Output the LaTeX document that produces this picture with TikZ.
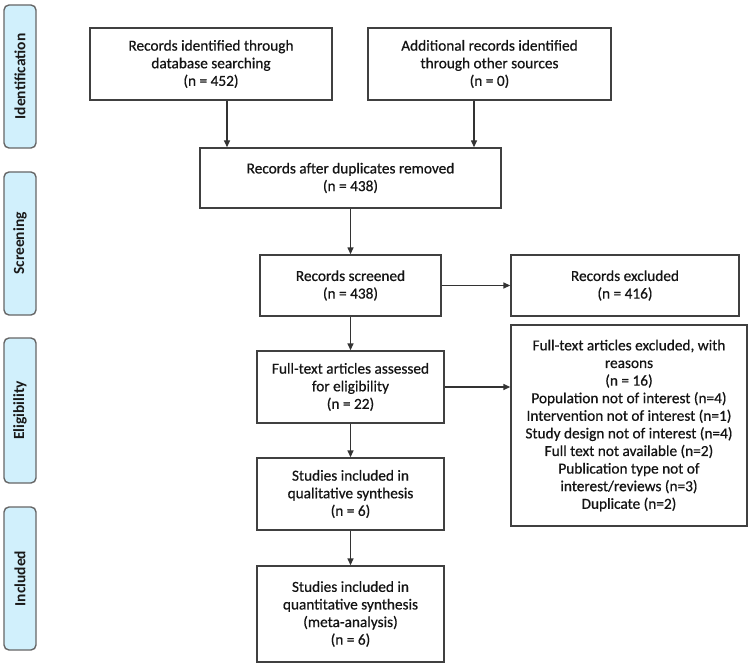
\documentclass[tikz,border=0pt]{standalone}
\usepackage{fontspec}
\setmainfont{Carlito}
\newfontfamily\boxfont[FakeBold=0.6]{Carlito}
\usetikzlibrary{arrows.meta}
\begin{document}
\begin{tikzpicture}[x=1pt,y=-1pt,
  box/.style={draw=black!75, line width=1.4pt, align=center, inner sep=0pt,
    font=\boxfont\fontsize{15.3}{17.6}\selectfont, text=black!92},
  phase/.style={draw=black!60, line width=1.4pt, fill=cyan!18!white, rounded corners=5pt,
    minimum width=32pt, inner sep=0pt},
  phasetext/.style={rotate=90, font=\bfseries\fontsize{15.5}{18}\selectfont, text=black!90},
  arr/.style={draw=black!80, line width=1.4pt, -{Triangle[length=7pt,width=6pt]}}]
\useasboundingbox (0,0) rectangle (750,666);
% phase labels
\node[phase, minimum height=143pt] (pid) at (20,76.5) {};
\node[phasetext] (tid) at (pid) {Identification};
\node[phase, minimum height=143pt] (psc) at (20,243.5) {};
\node[phasetext] (tsc) at (psc) {Screening};
\node[phase, minimum height=145pt] (pel) at (20,410.5) {};
\node[phasetext] (tel) at (pel) {Eligibility};
\node[phase, minimum height=143pt] (pin) at (20,578.5) {};
\node[phasetext] (tin) at (pin) {Included};
% boxes
\node[box, minimum width=242pt, minimum height=72pt] (db) at (211,64)
  {Records identified through\\database searching\\(n = 452)};
\node[box, minimum width=243pt, minimum height=72pt] (oth) at (489.5,64)
  {Additional records identified\\through other sources\\(n = 0)};
\node[box, minimum width=301pt, minimum height=60pt] (dup) at (350.5,178)
  {Records after duplicates removed\\(n = 438)};
\node[box, minimum width=181pt, minimum height=61pt] (scr) at (350.5,285.5)
  {Records screened\\(n = 438)};
\node[box, minimum width=228pt, minimum height=61pt] (exc) at (625,285.5)
  {Records excluded\\(n = 416)};
\node[box, minimum width=187pt, minimum height=72pt] (ft) at (350.5,387)
  {Full-text articles assessed\\for eligibility\\(n = 22)};
\node[box, minimum width=236pt, minimum height=201pt] (ftx) at (629,425.5)
  {Full-text articles excluded, with\\reasons\\(n = 16)\\Population not of interest (n=4)\\Intervention not of interest (n=1)\\Study design not of interest (n=4)\\Full text not available (n=2)\\Publication type not of\\interest/reviews (n=3)\\Duplicate (n=2)};
\node[box, minimum width=187pt, minimum height=72pt] (qual) at (350.5,494)
  {Studies included in\\qualitative synthesis\\(n = 6)};
\node[box, minimum width=187pt, minimum height=96pt] (quant) at (350.5,614)
  {Studies included in\\quantitative synthesis\\(meta-analysis)\\(n = 6)};
% arrows
\draw[arr] (db.south -| 227,0) -- (dup.north -| 227,0);
\draw[arr] (oth.south -| 474,0) -- (dup.north -| 474,0);
\draw[arr] (dup) -- (scr);
\draw[arr] (scr) -- (exc);
\draw[arr] (scr) -- (ft);
\draw[arr] (ft) -- (ft -| ftx.west);
\draw[arr] (ft) -- (qual);
\draw[arr] (qual) -- (quant);
\end{tikzpicture}
\end{document}
